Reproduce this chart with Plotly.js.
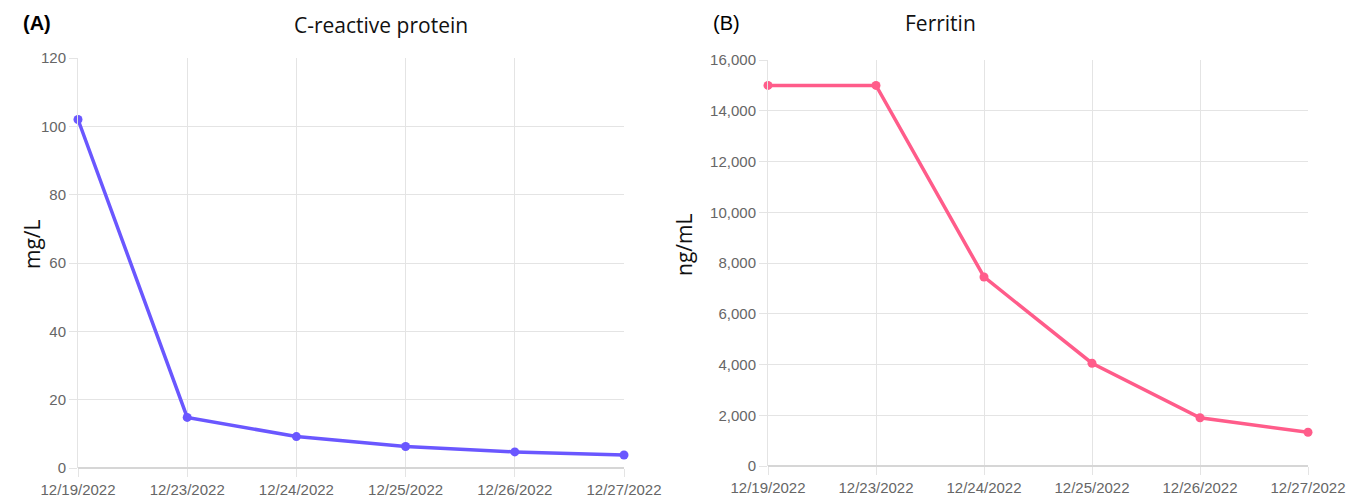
<!DOCTYPE html>
<html>
<head>
<meta charset="utf-8">
<script src="https://cdn.plot.ly/plotly-3.0.1.min.js"></script>
<style>html,body{margin:0;padding:0;background:#fff;}#chart{width:1357px;height:504px;}</style>
</head>
<body>
<div id="chart"></div>
<script>
const dates = ["12/19/2022","12/23/2022","12/24/2022","12/25/2022","12/26/2022","12/27/2022"];
const crpValues = [102, 14.8, 9.2, 6.3, 4.7, 3.8];
const ferritinValues = [15000, 15000, 7450, 4050, 1900, 1330];
const crpTicks = [0, 20, 40, 60, 80, 100, 120];
const ferritinTicks = [0, 2000, 4000, 6000, 8000, 10000, 12000, 14000, 16000];

const W = 1357, H = 504;
const gridColor = "#e4e4e4";
const tickFont = {family: "Liberation Sans, Arial, sans-serif", size: 15, color: "#666666"};
const titleFont = {family: "Open Sans, Noto Sans, sans-serif", size: 21, color: "#111111"};
const axisTitleFont = {family: "Open Sans, Noto Sans, sans-serif", size: 21, color: "#111111"};
const panelFont = {family: "Liberation Sans, Arial, sans-serif", size: 20, color: "#000"};

function xax(domain, anchor) {
  return {
    domain: domain, anchor: anchor, type: "category",
    range: [0, 5], showgrid: true, gridcolor: gridColor, gridwidth: 1,
    ticks: "outside", ticklen: 8, tickcolor: gridColor, tickfont: tickFont,
    showline: false, zeroline: false, fixedrange: true
  };
}
function yax(domain, anchor, range, ticks, fmt) {
  return {
    domain: domain, anchor: anchor, range: range, tickvals: ticks, tickformat: fmt,
    showgrid: true, gridcolor: gridColor, gridwidth: 1,
    ticks: "outside", ticklen: 8, tickcolor: gridColor, tickfont: tickFont,
    zeroline: true, zerolinecolor: "#d6d6d6", zerolinewidth: 2,
    showline: true, linecolor: gridColor, linewidth: 1,
    automargin: false, fixedrange: true
  };
}

const data = [
  {x: dates, y: crpValues, xaxis: "x", yaxis: "y", type: "scatter", mode: "lines+markers",
   line: {color: "#6a57ff", width: 3.5}, marker: {color: "#6a57ff", size: 9}, cliponaxis: false},
  {x: dates, y: ferritinValues, xaxis: "x2", yaxis: "y2", type: "scatter", mode: "lines+markers",
   line: {color: "#ff5c8a", width: 3.5}, marker: {color: "#ff5c8a", size: 9}, cliponaxis: false}
];

const layout = {
  width: W, height: H,
  margin: {l: 0, r: 0, t: 0, b: 0},
  paper_bgcolor: "#ffffff", plot_bgcolor: "#ffffff",
  showlegend: false,
  xaxis: xax([78 / W, 624 / W], "y"),
  yaxis: yax([36 / H, 446 / H], "x", [0, 120], crpTicks, ""),
  xaxis2: xax([768 / W, 1308 / W], "y2"),
  yaxis2: yax([38 / H, 444 / H], "x2", [0, 16000], ferritinTicks, ",d"),
  annotations: [
    {text: "<b>(A)</b>", xref: "paper", yref: "paper", x: 21 / W, y: 1 - 23 / H, xanchor: "left", yanchor: "middle",
     showarrow: false, font: panelFont},
    {text: "C-reactive protein", xref: "paper", yref: "paper", x: 381 / W, y: 1 - 25 / H, xanchor: "center", yanchor: "middle",
     showarrow: false, font: titleFont},
    {text: "(B)", xref: "paper", yref: "paper", x: 711 / W, y: 1 - 23 / H, xanchor: "left", yanchor: "middle",
     showarrow: false, font: panelFont},
    {text: "Ferritin", xref: "paper", yref: "paper", x: 940 / W, y: 1 - 23 / H, xanchor: "center", yanchor: "middle",
     showarrow: false, font: titleFont},
    {text: "mg/L", xref: "paper", yref: "paper", x: 32 / W, y: 1 - 244 / H, xanchor: "center", yanchor: "middle",
     textangle: -90, showarrow: false, font: axisTitleFont},
    {text: "ng/mL", xref: "paper", yref: "paper", x: 684 / W, y: 1 - 245 / H, xanchor: "center", yanchor: "middle",
     textangle: -90, showarrow: false, font: axisTitleFont}
  ]
};

Plotly.newPlot("chart", data, layout, {displayModeBar: false, staticPlot: true});
</script>
</body>
</html>
